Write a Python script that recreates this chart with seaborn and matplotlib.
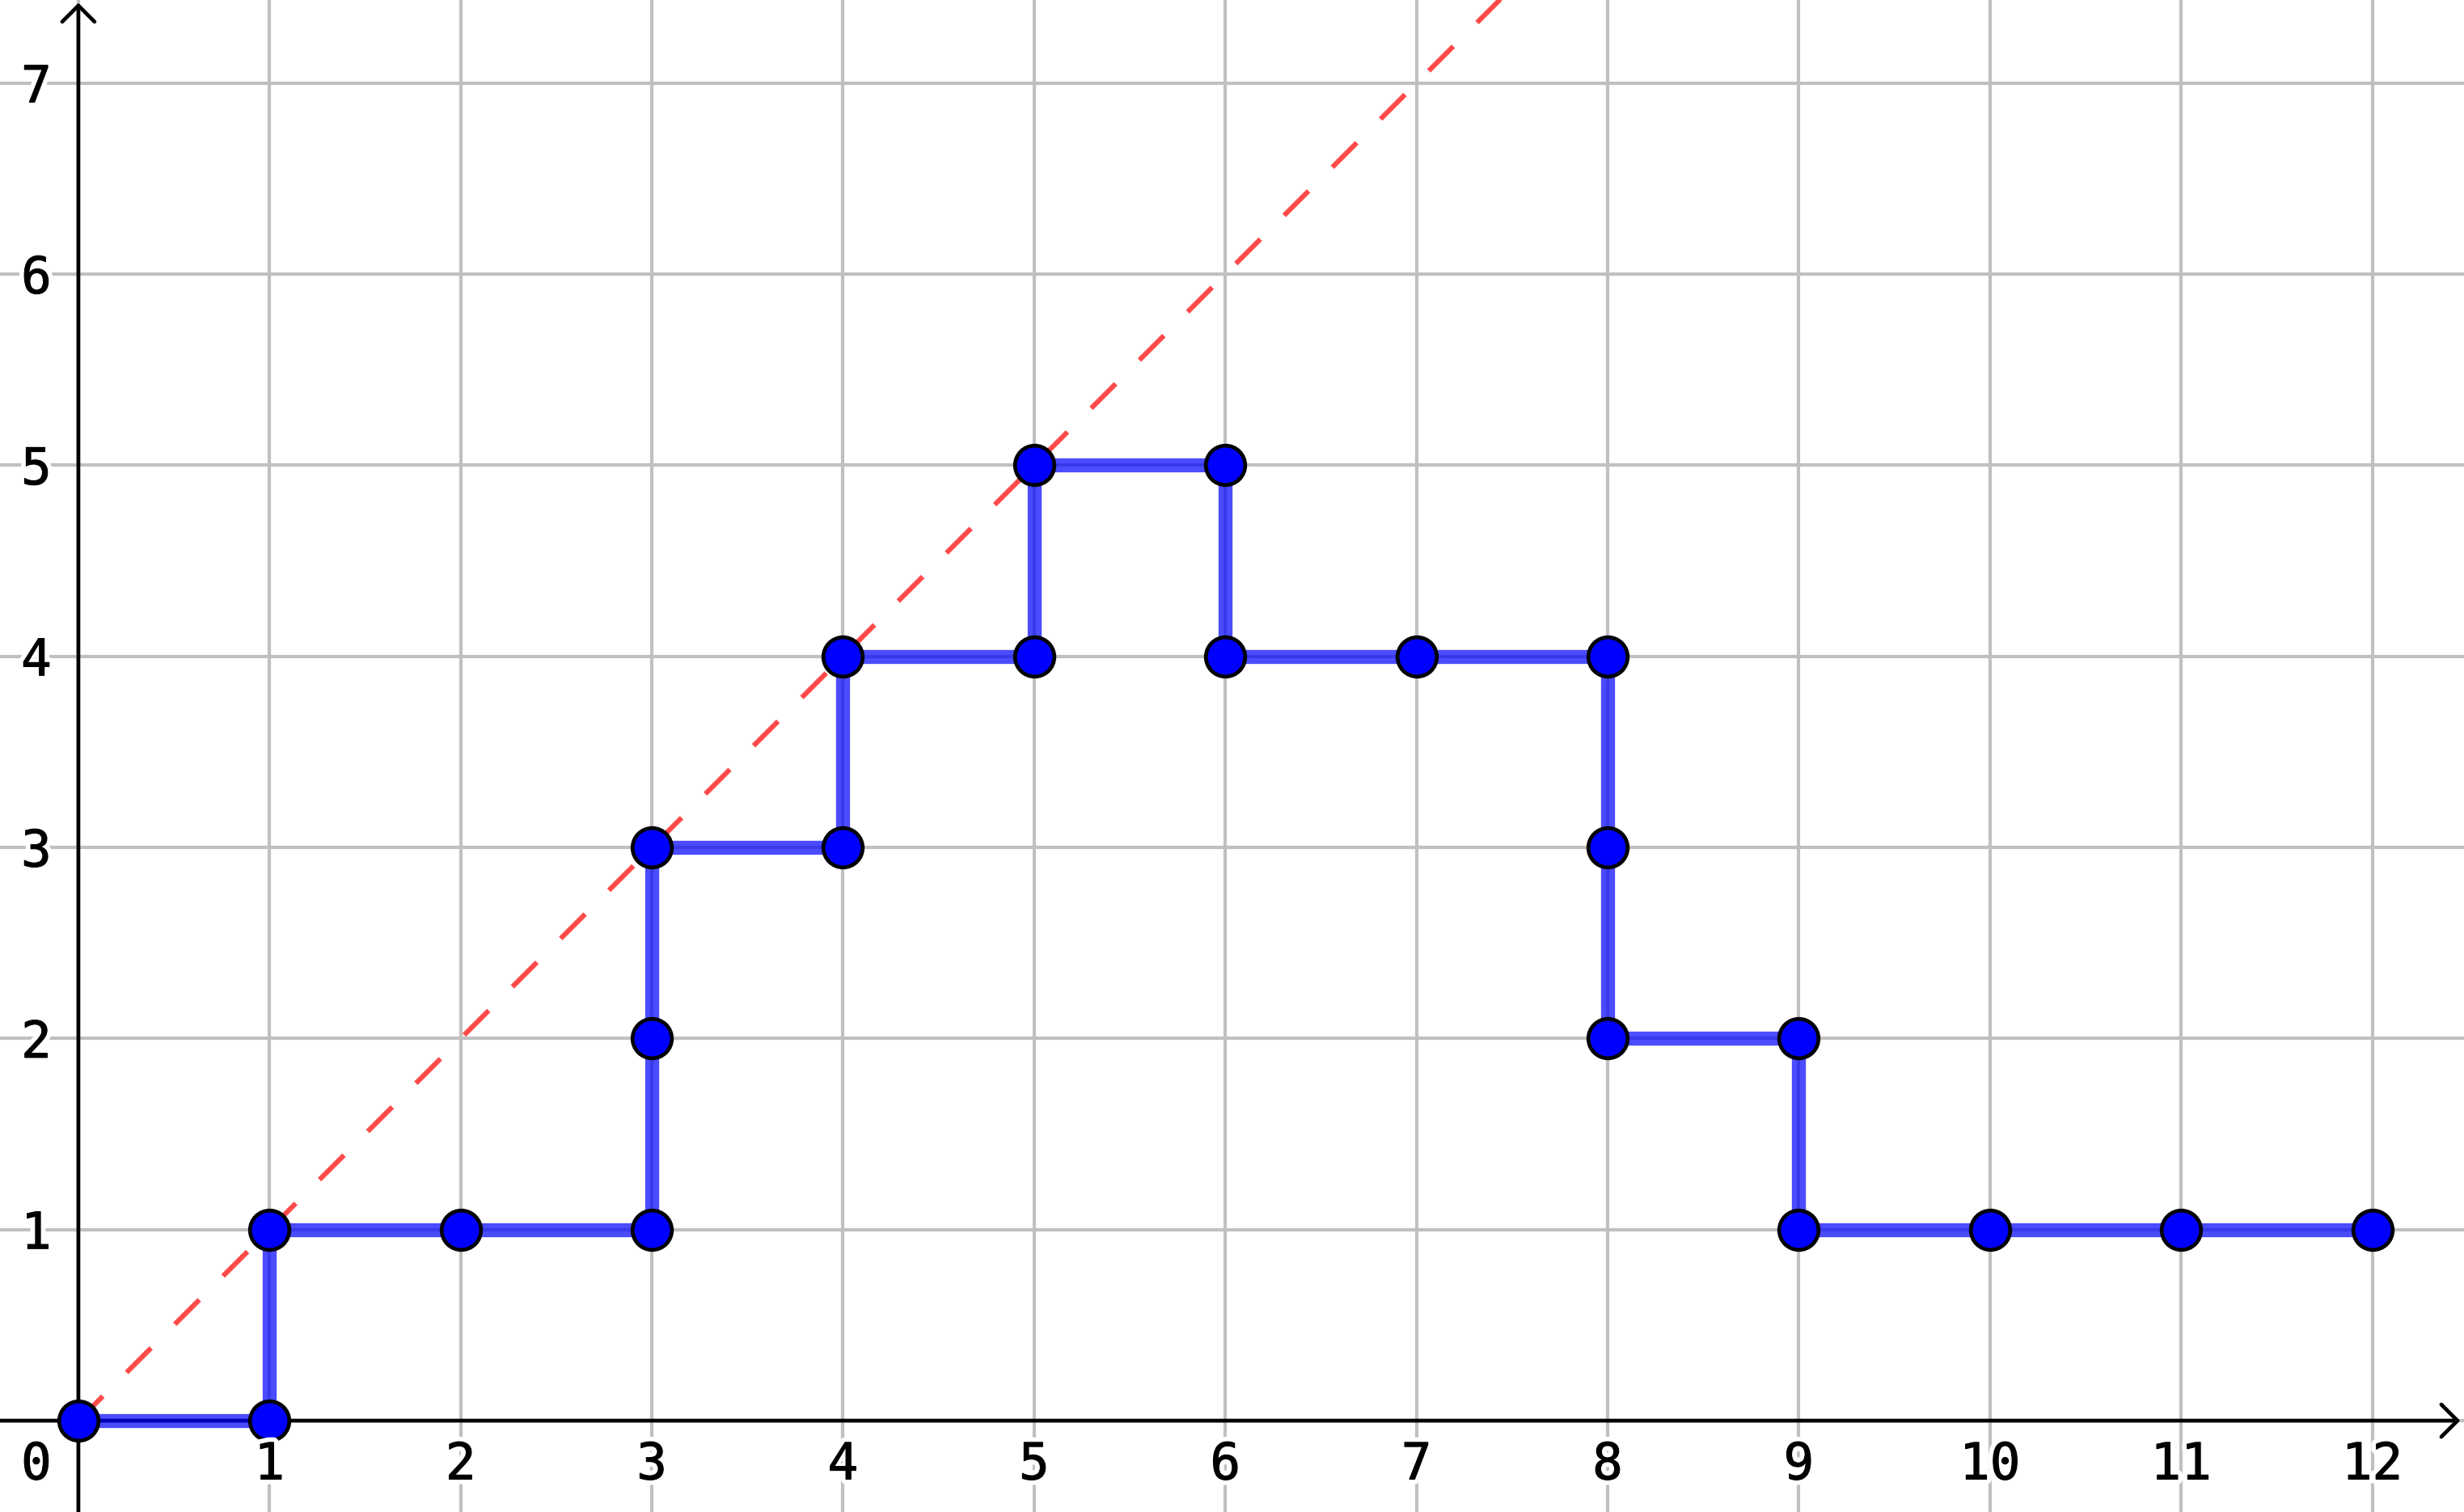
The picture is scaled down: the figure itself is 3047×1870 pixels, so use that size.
import numpy as np
import pandas as pd
import seaborn as sns
import matplotlib.pyplot as plt
import matplotlib.patheffects as pe

# lattice path (vertices in order)
path_x = [0, 1, 1, 2, 3, 3, 3, 4, 4, 5, 5, 6, 6, 7, 8, 8, 8, 9, 9, 10, 11, 12]
path_y = [0, 0, 1, 1, 1, 2, 3, 3, 4, 4, 5, 5, 4, 4, 4, 3, 2, 2, 1, 1, 1, 1]

# diagonal y = x, starting at the origin
diag = [0, 12]

x_ticks = list(range(1, 13))
y_ticks = list(range(1, 8))

sns.set_style("white")
plt.rcParams['font.family'] = ['DejaVu Sans Mono', 'DejaVu Sans']
plt.rcParams['text.color'] = 'black'

fig = plt.figure(figsize=(30.47, 18.70), dpi=100)
ax = fig.add_axes([0, 0, 1, 1])

df = pd.DataFrame({"x": path_x, "y": path_y})

ax.plot(diag, diag, color="#ff4a4a", linewidth=4.4, dashes=(7.0, 6.8), zorder=3.5)

sns.lineplot(data=df, x="x", y="y", sort=False, estimator=None, color="blue",
             alpha=0.7, linewidth=12.5, ax=ax, zorder=3)
sns.scatterplot(data=df, x="x", y="y", s=35**2, color="blue", edgecolor="black",
                linewidth=3.4, ax=ax, zorder=4)

ax.set_xlim(-0.41, 12.48)
ax.set_ylim(-0.478, 7.435)
ax.set_xticks(range(0, 13))
ax.set_yticks(range(0, 8))
ax.grid(True, color="#c0c0c0", lw=3)
ax.set_axisbelow(True)
ax.tick_params(length=0, labelbottom=False, labelleft=False)
ax.set_xlabel("")
ax.set_ylabel("")
for s in ax.spines.values():
    s.set_visible(False)

# axes with arrows
arrow = dict(arrowstyle="->,head_length=0.4,head_width=0.4", lw=3.4, color="black",
             shrinkA=0, shrinkB=0, mutation_scale=36)
ax.annotate("", xy=(12.46, 0), xytext=(-0.41, 0), arrowprops=arrow, zorder=2)
ax.annotate("", xy=(0, 7.42), xytext=(0, -0.478), arrowprops=arrow, zorder=2)

halo = [pe.Stroke(linewidth=9, foreground="white"),
        pe.Stroke(linewidth=0.8, foreground="black"), pe.Normal()]
for v in x_ticks:
    ax.text(v, -0.207, str(v), ha="center", va="center_baseline", fontsize=45,
            color="black", path_effects=halo, zorder=5)
for v in y_ticks:
    ax.text(-0.22, v, str(v), ha="center", va="center_baseline", fontsize=45,
            color="black", path_effects=halo, zorder=5)
ax.text(-0.22, -0.207, "0", ha="center", va="center_baseline", fontsize=45,
        color="black", path_effects=halo, zorder=5)

fig.savefig("out.png", dpi=100)
